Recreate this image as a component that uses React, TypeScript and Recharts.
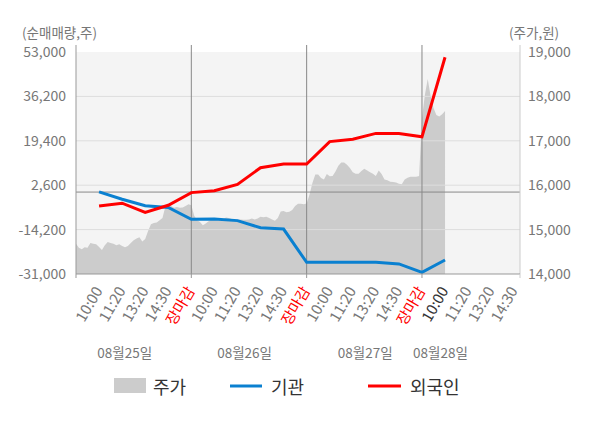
import React from 'react';
import { ComposedChart, Area, Line, XAxis, YAxis, CartesianGrid, ReferenceLine } from 'recharts';

const FONT = '"Noto Sans CJK KR", "Noto Sans", sans-serif';

// x-axis labels at positions 1..19 (each day = 5 slots)
const timeLabels = [
  '10:00', '11:20', '13:20', '14:30', '장마감',
  '10:00', '11:20', '13:20', '14:30', '장마감',
  '10:00', '11:20', '13:20', '14:30', '장마감',
  '10:00', '11:20', '13:20', '14:30',
];
const dayLabels = ['08월25일', '08월26일', '08월27일', '08월28일'];

// 순매매량 (net buy volume) at slots 1..16
const institution = [100, -2700, -5200, -5800, -10300, -10200, -10800, -13500, -14000, -26600, -26600, -26600, -26600, -27200, -30400, -25700];
const foreign = [-5300, -4200, -7700, -5000, -200, 500, 2900, 9200, 10600, 10600, 19100, 20000, 22200, 22200, 20900, 51000];

// 주가 (price) samples, 40 per day
const priceDay1 = [14680, 14590, 14560, 14600, 14590, 14700, 14680, 14670, 14610, 14540, 14650, 14720, 14700, 14680, 14650, 14670, 14630, 14600, 14630, 14700, 14760, 14800, 14830, 14730, 14790, 14970, 15120, 15150, 15160, 15210, 15260, 15520, 15550, 15530, 15490, 15510, 15490, 15500, 15530, 15570];
const priceDay2 = [15550, 15310, 15210, 15170, 15100, 15140, 15190, 15230, 15230, 15220, 15230, 15230, 15270, 15260, 15240, 15220, 15220, 15230, 15220, 15220, 15230, 15250, 15230, 15250, 15290, 15280, 15290, 15260, 15230, 15200, 15260, 15410, 15420, 15390, 15400, 15440, 15530, 15580, 15580, 15570];
const priceDay3 = [15590, 15790, 16050, 16240, 16240, 16160, 16130, 16250, 16200, 16210, 16310, 16440, 16510, 16510, 16460, 16390, 16290, 16260, 16260, 16320, 16370, 16330, 16290, 16260, 16210, 16330, 16250, 16130, 16110, 16080, 16070, 16060, 16030, 16020, 16130, 16170, 16190, 16190, 16190, 16210];
const priceDay4 = [17510, 18030, 18390, 18010, 17740, 17580, 17550, 17600, 17670];

const leftTicks = [-31000, -14200, 2600, 19400, 36200, 53000];
const rightTicks = [14000, 15000, 16000, 17000, 18000, 19000];

// layout constants
const SLOTS_PER_DAY = 5;
const SAMPLES_PER_DAY = 40;
const X_MAX = 19.25;
const DAY_BOUNDS = [0, 5, 10, 15];
const DATE_X = [2.11, 7.31, 12.54, 15.8];
const TOP_EXT = 55650;

const buildData = () => {
  const rows: Record<number, any> = {};
  const days = [priceDay1, priceDay2, priceDay3, priceDay4];
  days.forEach((arr, d) => {
    arr.forEach((p, k) => {
      const x = d * SLOTS_PER_DAY + (k * SLOTS_PER_DAY) / SAMPLES_PER_DAY;
      rows[x] = { ...(rows[x] || { x }), price: p };
    });
  });
  institution.forEach((v, i) => {
    const x = i + 1;
    rows[x] = { ...(rows[x] || { x }), inst: v };
  });
  foreign.forEach((v, i) => {
    const x = i + 1;
    rows[x] = { ...(rows[x] || { x }), frgn: v };
  });
  return Object.values(rows).sort((a: any, b: any) => a.x - b.x);
};

const data = buildData();

const allTicks = [
  ...Array.from({ length: 20 }, (_, i) => i),
  X_MAX,
  ...DATE_X,
];

const XTick = (props: any) => {
  const { x, y, payload } = props;
  const v = payload.value;
  const parts: any[] = [];
  if (DAY_BOUNDS.includes(v) || v === X_MAX) {
    parts.push(<line key="t" x1={x} x2={x} y1={y} y2={y + 4} stroke={v === X_MAX ? '#ccc' : '#999'} />);
  }
  const di = DATE_X.indexOf(v);
  if (di >= 0) {
    parts.push(
      <text key="d" x={x} y={y + 84} textAnchor="middle" fontSize={13.5} fill="#777" fontFamily={FONT}>
        {dayLabels[di]}
      </text>
    );
  }
  if (Number.isInteger(v) && v >= 1 && v <= timeLabels.length) {
    const label = timeLabels[v - 1];
    const color = label === '장마감' ? '#ff0000' : v === 16 ? '#333' : '#777';
    const ax = x + 4;
    const ay = y + 16.5;
    parts.push(
      <text key="l" x={ax} y={ay} textAnchor="end" fontSize={15} fill={color} fontFamily={FONT} transform={`rotate(-60, ${ax}, ${ay})`}>
        {label}
      </text>
    );
  }
  return <g>{parts}</g>;
};

const LegendLabel = () => (
  <g fontFamily={FONT}>
    <rect x={114} y={378} width={32} height={15} fill="#cccccc" />
    <text x={153} y={394} fontSize={18} fill="#333">주가</text>
    <line x1={230} x2={262} y1={386} y2={386} stroke="#0a80d0" strokeWidth={3} />
    <text x={271} y={394} fontSize={18} fill="#333">기관</text>
    <line x1={368} x2={401} y1={386} y2={386} stroke="#ff0000" strokeWidth={3} />
    <text x={410} y={394} fontSize={18} fill="#333">외국인</text>
  </g>
);

const fmt = (v: number) => v.toLocaleString('en-US');

export default function App() {
  return (
    <div style={{ position: 'absolute', left: 0, top: 0 }}>
      <ComposedChart width={600} height={428} data={data} margin={{ top: 52, right: 0, bottom: 0, left: 0 }}>
        <CartesianGrid yAxisId="l" fill="#f4f4f4" horizontal={false} vertical={false} />
        <XAxis
          dataKey="x"
          type="number"
          domain={[0, X_MAX]}
          ticks={allTicks}
          interval={0}
          tickLine={false}
          tickSize={0}
          tickMargin={0}
          axisLine={{ stroke: '#999' }}
          height={154}
          tick={<XTick />}
          label={{ content: () => <LegendLabel /> }}
        />
        <YAxis
          yAxisId="l"
          domain={[-31000, 53000]}
          ticks={leftTicks}
          interval={0}
          width={76}
          axisLine={false}
          tickLine={false}
          tickSize={0}
          tickMargin={10}
          tickFormatter={fmt}
          tick={{ fontSize: 14, fill: '#777', fontFamily: FONT }}
          label={{
            content: () => (
              <text x={22} y={38} fontSize={13.5} fill="#777" fontFamily={FONT}>(순매매량,주)</text>
            ),
          }}
        />
        <YAxis
          yAxisId="r"
          orientation="right"
          domain={[14000, 19000]}
          ticks={rightTicks}
          interval={0}
          width={80}
          axisLine={false}
          tickLine={false}
          tickSize={0}
          tickMargin={8}
          tickFormatter={fmt}
          tick={{ fontSize: 14, fill: '#777', fontFamily: FONT }}
          label={{
            content: () => (
              <text x={509} y={38} fontSize={13.5} fill="#777" fontFamily={FONT}>(주가,원)</text>
            ),
          }}
        />
        <Area
          yAxisId="r"
          type="linear"
          dataKey="price"
          fill="#cccccc"
          fillOpacity={1}
          stroke="none"
          connectNulls
          isAnimationActive={false}
        />
        {[36200, 19400, 2600, -14200].map((v) => (
          <ReferenceLine key={v} yAxisId="l" y={v} stroke="#dddddd" />
        ))}
        <ReferenceLine yAxisId="l" y={0} stroke="#888" />
        {DAY_BOUNDS.map((b) => (
          <ReferenceLine
            key={b}
            yAxisId="l"
            segment={[{ x: b, y: TOP_EXT }, { x: b, y: -31000 }]}
            stroke={b === 0 ? '#999' : '#888'}
            ifOverflow="visible"
          />
        ))}
        <ReferenceLine
          yAxisId="l"
          segment={[{ x: X_MAX, y: TOP_EXT }, { x: X_MAX, y: -31000 }]}
          stroke="#ccc"
          ifOverflow="visible"
        />
        <Line
          yAxisId="l"
          type="linear"
          dataKey="inst"
          stroke="#0a80d0"
          strokeWidth={3}
          dot={false}
          connectNulls
          isAnimationActive={false}
        />
        <Line
          yAxisId="l"
          type="linear"
          dataKey="frgn"
          stroke="#ff0000"
          strokeWidth={3}
          dot={false}
          connectNulls
          isAnimationActive={false}
        />
      </ComposedChart>
    </div>
  );
}
